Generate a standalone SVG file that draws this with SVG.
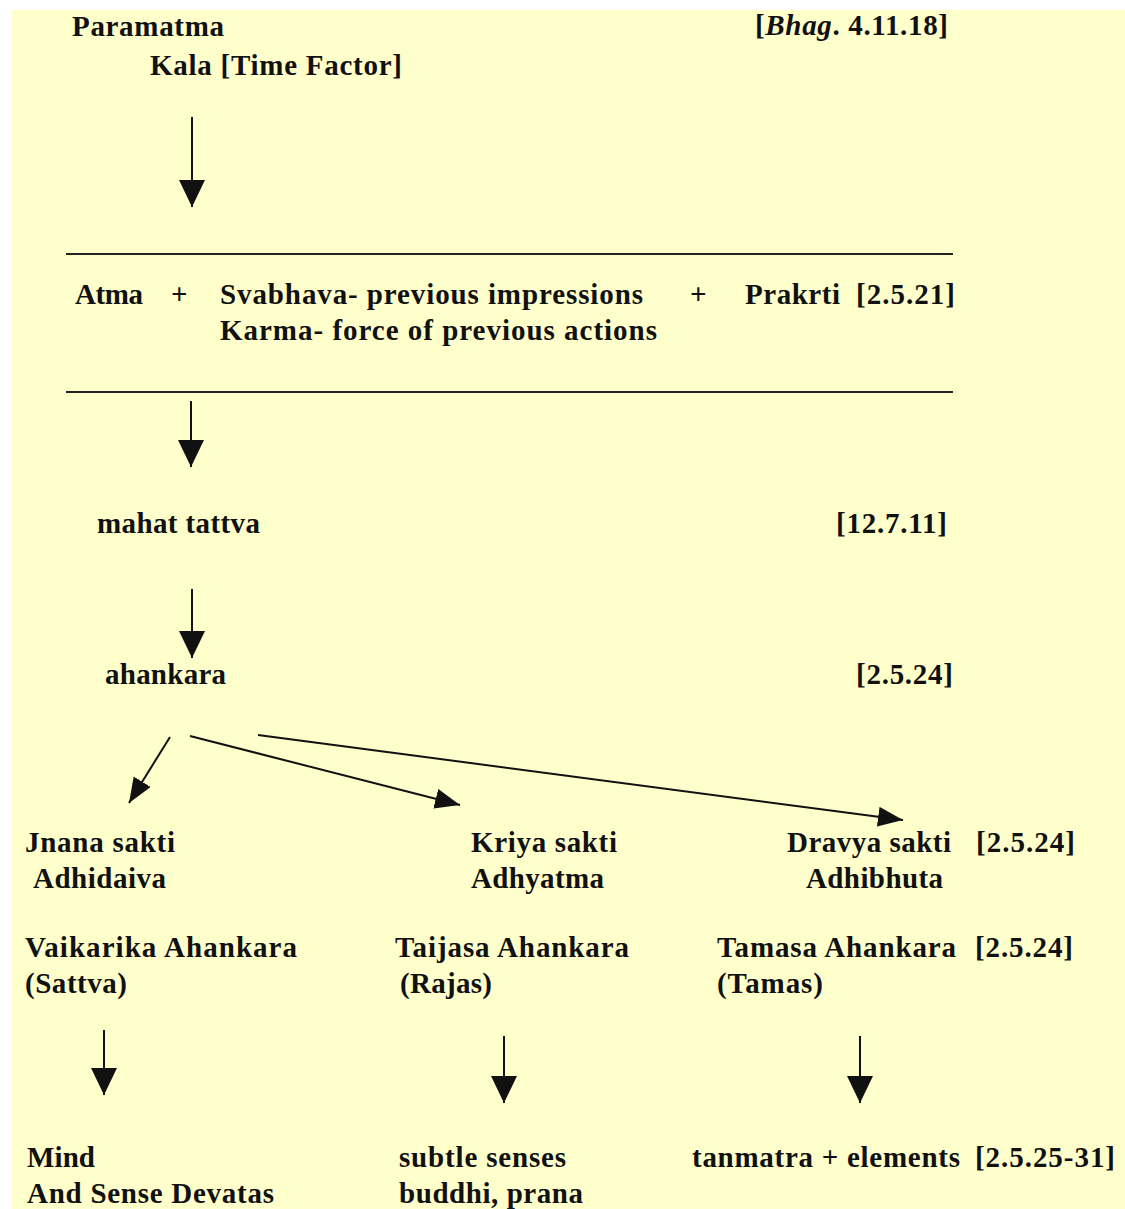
<svg xmlns="http://www.w3.org/2000/svg" width="1125" height="1209" viewBox="0 0 1125 1209">
<style>
text{font-family:"Liberation Serif","Times New Roman",serif;font-weight:bold;font-size:29px;fill:#111;}
.ln{stroke:#111;stroke-width:2;fill:none;}
.rule{stroke:#222;stroke-width:2;}
</style>
<defs>
<marker id="ah" markerUnits="userSpaceOnUse" markerWidth="28" markerHeight="28" refX="27" refY="13" orient="auto"><path d="M0,0 L27,13 L0,26 z" fill="#111"/></marker>
<marker id="ahs" markerUnits="userSpaceOnUse" markerWidth="26" markerHeight="22" refX="25" refY="10" orient="auto"><path d="M0,0 L25,10 L0,20 z" fill="#111"/></marker>
</defs>
<rect x="0" y="0" width="1125" height="1209" fill="#ffffff"/>
<rect x="12" y="10" width="1113" height="1199" fill="#ffffcc"/>

<g id="paramatma"><text x="72" y="36" textLength="152">Paramatma</text><text x="150" y="75" textLength="252">Kala [Time Factor]</text></g>
<g id="ref-bhag"><text x="755" y="35" textLength="193">[<tspan font-style="italic">Bhag</tspan>. 4.11.18]</text></g>

<g id="rules"><line class="rule" x1="66" y1="254" x2="953" y2="254"/><line class="rule" x1="66" y1="392" x2="953" y2="392"/></g>

<g id="atma-group">
<text x="75" y="304" textLength="68">Atma</text>
<text x="171" y="304">+</text>
<text x="220" y="304" textLength="423">Svabhava- previous impressions</text>
<text x="220" y="340" textLength="437">Karma- force of previous actions</text>
<text x="690" y="304">+</text>
<text x="745" y="304" textLength="95">Prakrti</text>
<text x="856" y="304" textLength="99">[2.5.21]</text>
</g>

<g id="mahat"><text x="97" y="533" textLength="163">mahat tattva</text><text x="836" y="533" textLength="111">[12.7.11]</text></g>
<g id="ahankara"><text x="105" y="684" textLength="121">ahankara</text><text x="856" y="684" textLength="97">[2.5.24]</text></g>

<g id="jnana"><text x="25" y="852" textLength="150">Jnana sakti</text><text x="33" y="888" textLength="133">Adhidaiva</text></g>
<g id="kriya"><text x="471" y="852" textLength="146">Kriya sakti</text><text x="471" y="888" textLength="133">Adhyatma</text></g>
<g id="dravya"><text x="787" y="852" textLength="164">Dravya sakti</text><text x="976" y="852" textLength="99">[2.5.24]</text><text x="806" y="888" textLength="137">Adhibhuta</text></g>

<g id="vaikarika"><text x="25" y="957" textLength="272">Vaikarika Ahankara</text><text x="25" y="993" textLength="102">(Sattva)</text></g>
<g id="taijasa"><text x="395" y="957" textLength="234">Taijasa Ahankara</text><text x="400" y="993" textLength="92">(Rajas)</text></g>
<g id="tamasa"><text x="717" y="957" textLength="239">Tamasa Ahankara</text><text x="975" y="957" textLength="98">[2.5.24]</text><text x="717" y="993" textLength="106">(Tamas)</text></g>

<g id="mind"><text x="27" y="1167" textLength="68">Mind</text><text x="27" y="1203" textLength="247">And Sense Devatas</text></g>
<g id="subtle"><text x="399" y="1167" textLength="167">subtle senses</text><text x="399" y="1203" textLength="184">buddhi, prana</text></g>
<g id="tanmatra"><text x="692" y="1167" textLength="268">tanmatra + elements</text><text x="975" y="1167" textLength="140">[2.5.25-31]</text></g>

<g id="connectors">
<line class="ln" x1="192" y1="117" x2="192" y2="207" marker-end="url(#ah)"/>
<line class="ln" x1="191" y1="401" x2="191" y2="467" marker-end="url(#ah)"/>
<line class="ln" x1="192" y1="589" x2="192" y2="658" marker-end="url(#ah)"/>
<line class="ln" x1="170" y1="737" x2="129" y2="803" marker-end="url(#ahs)"/>
<line class="ln" x1="190" y1="736" x2="460" y2="805" marker-end="url(#ahs)"/>
<line class="ln" x1="258" y1="735" x2="903" y2="820" marker-end="url(#ahs)"/>
<line class="ln" x1="104" y1="1030" x2="104" y2="1095" marker-end="url(#ah)"/>
<line class="ln" x1="504" y1="1036" x2="504" y2="1103" marker-end="url(#ah)"/>
<line class="ln" x1="860" y1="1036" x2="860" y2="1103" marker-end="url(#ah)"/>
</g>
</svg>
